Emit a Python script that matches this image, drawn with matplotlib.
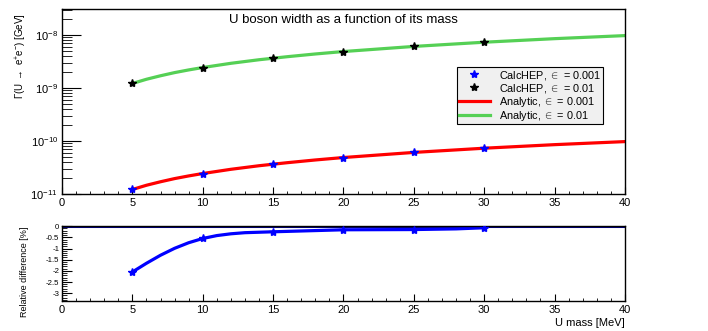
import matplotlib
matplotlib.use('Agg')
from matplotlib import pyplot as plt
from matplotlib.ticker import MultipleLocator, LogLocator, NullFormatter
import numpy as np

plt.rcParams['font.family'] = ['Liberation Sans', 'DejaVu Sans']
plt.rcParams['mathtext.fontset'] = 'custom'
plt.rcParams['mathtext.rm'] = 'Liberation Sans'
plt.rcParams['mathtext.it'] = 'Liberation Sans:italic'

# CalcHEP points
mass_points = [5, 10, 15, 20, 25, 30]
calchep_001 = [1.22e-11, 2.43e-11, 3.65e-11, 4.87e-11, 6.08e-11, 7.30e-11]
calchep_01 = [1.22e-9, 2.43e-9, 3.65e-9, 4.87e-9, 6.08e-9, 7.30e-9]

# analytic curves
mass_curve = [5, 6, 7, 8, 9, 10, 12, 14, 16, 18, 20, 25, 30, 35, 40]
analytic_001 = [1.215e-11, 1.46e-11, 1.70e-11, 1.95e-11, 2.19e-11, 2.43e-11, 2.92e-11, 3.41e-11,
                3.89e-11, 4.38e-11, 4.87e-11, 6.08e-11, 7.30e-11, 8.52e-11, 9.73e-11]
analytic_01 = [1.215e-9, 1.46e-9, 1.70e-9, 1.95e-9, 2.19e-9, 2.43e-9, 2.92e-9, 3.41e-9,
               3.89e-9, 4.38e-9, 4.87e-9, 6.08e-9, 7.30e-9, 8.52e-9, 9.73e-9]

# relative difference (%)
diff_points = [-2.05, -0.55, -0.25, -0.15, -0.15, -0.07]
diff_mass_curve = [5, 6, 7, 8, 9, 10, 11, 12, 13, 15, 20, 25, 28, 30]
diff_curve = [-2.05, -1.66, -1.30, -0.99, -0.74, -0.55, -0.42, -0.34, -0.29, -0.25, -0.16, -0.15,
              -0.12, -0.07]

fig = plt.figure(figsize=(7.08, 3.31), dpi=100)
ax = fig.add_axes([0.0876, 0.414, 0.795, 0.559])
ax2 = fig.add_axes([0.0876, 0.0906, 0.795, 0.226])

green = '#55d055'
ax.plot(mass_curve, analytic_001, color='red', lw=2.3, label='Analytic, $\\in$ = 0.001', zorder=2)
ax.plot(mass_curve, analytic_01, color=green, lw=2.3, label='Analytic, $\\in$ = 0.01', zorder=2)
ax.plot(mass_points, calchep_001, ls='none', marker='*', color='blue', ms=6,
        label='CalcHEP, $\\in$ = 0.001', zorder=3)
ax.plot(mass_points, calchep_01, ls='none', marker='*', color='black', ms=6,
        label='CalcHEP, $\\in$ = 0.01', zorder=3)

ax.set_yscale('log')
ax.set_xlim(0, 40)
ax.set_ylim(1e-11, 3.1e-8)
ax.xaxis.set_major_locator(MultipleLocator(5))
ax.xaxis.set_minor_locator(MultipleLocator(1))
ax.yaxis.set_major_locator(LogLocator(base=10))
ax.yaxis.set_minor_locator(LogLocator(base=10, subs=np.arange(2, 10)))
ax.yaxis.set_minor_formatter(NullFormatter())
ax.tick_params(axis='y', which='major', direction='in', length=14, labelsize=8, pad=3)
ax.tick_params(axis='y', which='minor', direction='in', length=7)
ax.tick_params(axis='x', which='major', direction='in', length=5, labelsize=8, pad=3)
ax.tick_params(axis='x', which='minor', direction='in', length=2.5)
ax.set_ylabel('$\\Gamma$(U $\\rightarrow$ e$^{+}$e$^{-}$) [GeV]', fontsize=7, loc='top')
ax.yaxis.set_label_coords(-0.058, 0.98)
ax.text(0.5, 0.94, 'U boson width as a function of its mass', transform=ax.transAxes,
        ha='center', va='center', fontsize=9.5)

handles, labels = ax.get_legend_handles_labels()
order = [2, 3, 0, 1]
leg = ax.legend([handles[i] for i in order], [labels[i] for i in order],
                loc='upper left', bbox_to_anchor=(0.702, 0.686), fontsize=7.8,
                frameon=True, fancybox=False, edgecolor='black', facecolor='#f0f0f0',
                framealpha=1, handlelength=2.9, handletextpad=0.8, borderpad=0.15,
                labelspacing=0.0, borderaxespad=0)
leg.get_frame().set_linewidth(0.8)

# bottom panel
ax2.axhline(0, color='#000080', lw=2.2, zorder=1)
ax2.plot(diff_mass_curve, diff_curve, color='blue', lw=2.3, zorder=2)
ax2.plot(mass_points, diff_points, ls='none', marker='*', color='blue', ms=6, zorder=3)
ax2.set_xlim(0, 40)
ax2.set_ylim(-3.35, 0)
ax2.xaxis.set_major_locator(MultipleLocator(5))
ax2.xaxis.set_minor_locator(MultipleLocator(1))
ax2.yaxis.set_major_locator(MultipleLocator(0.5))
ax2.yaxis.set_minor_locator(MultipleLocator(0.1))
ax2.yaxis.set_major_formatter(plt.FuncFormatter(lambda v, p: ('%g' % v) if abs(v) > 1e-9 else '0'))
ax2.tick_params(axis='y', which='major', direction='in', length=7, labelsize=5.6, pad=2)
ax2.tick_params(axis='y', which='minor', direction='in', length=3.5)
ax2.tick_params(axis='x', which='major', direction='in', length=5, labelsize=8, pad=3)
ax2.tick_params(axis='x', which='minor', direction='in', length=2.5)
ax2.set_ylabel('Relative difference [%]', fontsize=6.5, loc='top')
ax2.yaxis.set_label_coords(-0.058, 1.0)
ax2.set_xlabel('U mass [MeV]', fontsize=8, loc='right', labelpad=2)

for a in (ax, ax2):
    for s in a.spines.values():
        s.set_linewidth(1.0)

fig.savefig('out.png', dpi=100)
